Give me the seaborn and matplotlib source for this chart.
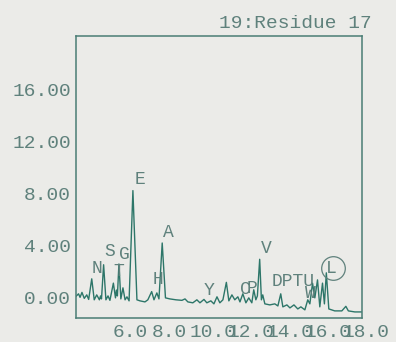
import numpy as np
import pandas as pd
import matplotlib
matplotlib.use('Agg')
import matplotlib.pyplot as plt
import seaborn as sns

# chromatogram trace, vertices (time in min, signal)
times = [4.07, 4.20, 4.28, 4.38, 4.50, 4.63, 4.73, 4.89, 5.02, 5.15, 5.29, 5.35, 5.40,
         5.51, 5.63, 5.74, 5.84, 6.02, 6.13, 6.18, 6.23, 6.31, 6.41, 6.52, 6.63, 6.73,
         6.84, 7.04, 7.25, 7.41, 7.67, 7.82, 8.02, 8.14, 8.29, 8.40, 8.57, 8.74, 8.97,
         9.29, 9.60, 9.76, 9.91, 10.17, 10.38, 10.54, 10.75, 10.90, 11.11, 11.27, 11.43,
         11.58, 11.74, 11.92, 12.05, 12.21, 12.36, 12.52, 12.63, 12.78, 12.94, 13.09,
         13.25, 13.35, 13.46, 13.54, 13.66, 13.75, 13.82, 13.93, 14.19, 14.45, 14.61,
         14.76, 14.87, 15.08, 15.24, 15.45, 15.65, 15.81, 16.02, 16.17, 16.28, 16.42,
         16.54, 16.68, 16.80, 16.94, 17.04, 17.14, 17.27, 17.58, 17.95, 18.16, 18.29,
         18.63, 18.99]
signal = [0.12, 0.31, 0.04, 0.42, -0.04, 0.23, -0.12, 1.46, -0.15, 0.23, -0.15, 0.15, -0.08,
          2.54, -0.15, 0.15, -0.19, 1.13, 0.00, 0.60, 0.15, 2.60, -0.08, 0.77, -0.15, 0.08,
          -0.23, 8.23, -0.15, -0.23, -0.31, -0.15, 0.48, -0.15, 0.38, -0.08, 4.21, 0.00, -0.08,
          -0.15, -0.19, -0.08, -0.31, -0.38, -0.15, -0.38, -0.12, -0.38, -0.23, -0.46, 0.08,
          -0.38, -0.15, 1.19, -0.23, 0.23, -0.15, 0.08, -0.31, 0.31, -0.38, 0.00,
          -0.38, 0.62, -0.15, 0.15, 2.96, -0.15, 0.23, -0.46, -0.54, -0.46, -0.62,
          0.31, -0.69, -0.54, -0.77, -0.54, -0.85, -0.69, -0.92, -0.15, -0.46, 1.13,
          0.00, 1.38, -0.69, 1.13, -0.46, 1.92, -0.85, -1.00, -1.00, -0.65, -1.00,
          -1.08, -1.08]

# peak labels (residue codes) and where they sit
peak_labels = ['E', 'A', 'S', 'G', 'N', 'T', 'H', 'Y', 'C', 'P', 'V', 'DPTU', 'W', 'L']
label_x = [7.41, 8.87, 5.84, 6.57, 5.18, 6.31, 8.36, 11.02, 12.89, 13.25, 13.98, 15.39, 16.33, 17.41]
label_y = [9.08, 5.02, 3.56, 3.31, 2.28, 2.02, 1.38, 0.56, 0.62, 0.69, 3.82, 1.23, 0.31, 2.28]

yticks = [0, 4, 8, 12, 16]
xticks = [6, 8, 10, 12, 14, 16, 18]
title = '19:Residue 17'

bg = '#ebebe8'
line_c = '#2d7669'
text_c = '#5f817c'
frame_c = '#4a7d75'

sns.set_theme(style='white')
plt.rcParams['font.family'] = ['Liberation Mono', 'DejaVu Sans']

df = pd.DataFrame({'time': times, 'signal': signal})

fig = plt.figure(figsize=(3.96, 3.42), dpi=100, facecolor=bg)
ax = fig.add_axes([0.192, 0.070, 0.722, 0.825])
ax.set_facecolor(bg)

sns.lineplot(data=df, x='time', y='signal', sort=False, estimator=None,
             color=line_c, linewidth=1.0, ax=ax)

ax.set_xlim(4.07, 19.0)
ax.set_ylim(-1.55, 20.1)

ax.set_yticks(yticks)
ax.set_yticklabels(['%.2f' % v for v in yticks], fontsize=14, color=text_c)
ax.set_xticks(xticks)
ax.set_xticklabels(['%.1f' % v for v in xticks], fontsize=14, color=text_c, ha='left')
ax.tick_params(axis='y', direction='inout', length=5, width=0.8, color=frame_c, pad=1)
ax.tick_params(axis='x', direction='out', length=2.5, width=0.8, color=frame_c, pad=2)
ax.set_xlabel('')
ax.set_ylabel('')

for s in ax.spines.values():
    s.set_color(frame_c)
    s.set_linewidth(1.1)

for lab, lx, ly in zip(peak_labels, label_x, label_y):
    ax.text(lx, ly, lab, fontsize=13, color=text_c, ha='center', va='center')

# circle drawn around the L label
ax.plot([17.50], [2.30], marker='o', markersize=17, mfc='none', mec=text_c, mew=0.9)

fig.text(0.94, 0.932, title, fontsize=14, color=text_c, ha='right', va='center')

fig.savefig('out.png', dpi=100, facecolor=bg)
